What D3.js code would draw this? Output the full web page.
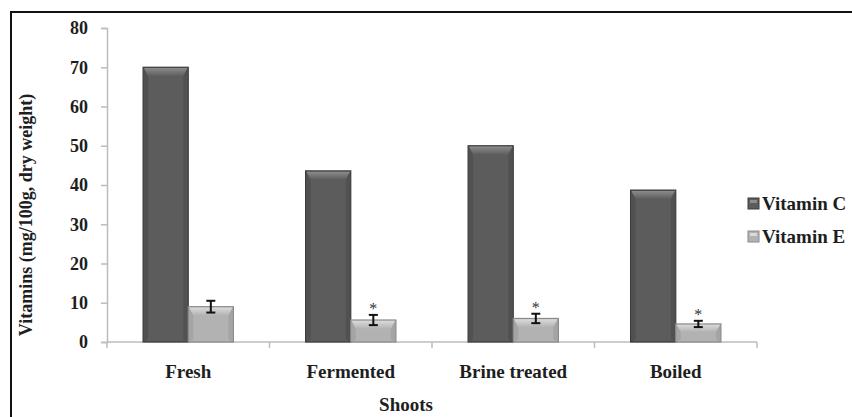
<!DOCTYPE html>
<html>
<head>
<meta charset="utf-8">
<script src="https://cdn.jsdelivr.net/npm/d3@7"></script>
<style>
  html, body { margin: 0; padding: 0; background: #fff; }
  svg { display: block; font-family: "Liberation Serif", "Times New Roman", serif; }
</style>
</head>
<body>
<svg id="chart" width="852" height="417"></svg>
<script>
// Vitamin content of shoots by processing method
const categories = ["Fresh", "Fermented", "Brine treated", "Boiled"];
const seriesNames = ["Vitamin C", "Vitamin E"];
const vitaminC = [70.0, 43.6, 50.0, 38.7];
const vitaminE = [9.0, 5.6, 6.0, 4.6];
const vitaminEErr = [1.5, 1.3, 1.2, 0.8];
const significant = [false, true, true, true];
const yTicks = [0, 10, 20, 30, 40, 50, 60, 70, 80];

const svg = d3.select("#chart");
const plotLeft = 107, plotRight = 757, plotTop = 28, plotBottom = 342;
const ink = "#1e1e1e";

// outer frame
svg.append("rect")
  .attr("x", 11).attr("y", 12).attr("width", 900).attr("height", 440)
  .attr("fill", "none").attr("stroke", "#111").attr("stroke-width", 2);

const x = d3.scaleBand().domain(categories).range([plotLeft, plotRight]).padding(0);
const xs = d3.scaleBand().domain(seriesNames).range([0, x.bandwidth()]).paddingInner(0).paddingOuter(0.8);
const y = d3.scaleLinear().domain([0, 80]).range([plotBottom, plotTop]);

const axisColor = "#bdbdbd";

// y axis
const yAxis = svg.append("g").attr("transform", `translate(${plotLeft},0)`)
  .call(d3.axisLeft(y).tickValues(yTicks).tickSize(6).tickPadding(13).tickFormat(d3.format("d")));
yAxis.select(".domain").attr("stroke", axisColor).attr("stroke-width", 1.5);
yAxis.selectAll(".tick line").attr("stroke", axisColor).attr("stroke-width", 1.5);
yAxis.selectAll(".tick text")
  .attr("font-family", "Liberation Serif").attr("font-weight", "bold")
  .attr("font-size", 18).attr("fill", ink);

// x axis: ticks at category boundaries
svg.append("line")
  .attr("x1", plotLeft).attr("x2", plotRight).attr("y1", plotBottom).attr("y2", plotBottom)
  .attr("stroke", axisColor).attr("stroke-width", 1.5);
const boundaries = categories.map(c => x(c) + x.bandwidth()).concat([plotLeft]);
svg.append("g").selectAll("line").data(boundaries).join("line")
  .attr("x1", d => d).attr("x2", d => d)
  .attr("y1", plotBottom).attr("y2", plotBottom + 6)
  .attr("stroke", axisColor).attr("stroke-width", 1.5);

svg.append("g").selectAll("text").data(categories).join("text")
  .attr("x", d => x(d) + x.bandwidth() / 2)
  .attr("y", 378)
  .attr("text-anchor", "middle")
  .attr("font-weight", "bold").attr("font-size", 19).attr("fill", ink)
  .text(d => d);

// axis titles
svg.append("text")
  .attr("x", 406).attr("y", 411)
  .attr("text-anchor", "middle")
  .attr("font-weight", "bold").attr("font-size", 19).attr("fill", ink)
  .text("Shoots");

svg.append("text")
  .attr("transform", "translate(32,215) rotate(-90)")
  .attr("text-anchor", "middle")
  .attr("font-weight", "bold").attr("font-size", 18).attr("fill", ink)
  .text("Vitamins (mg/100g, dry weight)");

// bevelled bar drawing
const styles = {
  "Vitamin C": { base: "#5c5c5c", edge: "#3c3c3c", light: "#8c8c8c" },
  "Vitamin E": { base: "#b2b2b2", edge: "#8a8a8a", light: "#dadada" }
};
const defs = svg.append("defs");
Object.entries(styles).forEach(([name, s], i) => {
  const g = defs.append("linearGradient").attr("id", "bev" + i)
    .attr("x1", 0).attr("x2", 0).attr("y1", 0).attr("y2", 1);
  g.append("stop").attr("offset", "0%").attr("stop-color", s.light);
  g.append("stop").attr("offset", "100%").attr("stop-color", s.base);
});

function drawBar(g, x0, w, v, name, idx) {
  const s = styles[name];
  const yt = y(v), h = y(0) - yt;
  const bev = Math.min(9, h * 0.45);
  g.append("rect").attr("x", x0).attr("y", yt).attr("width", w).attr("height", h)
    .attr("fill", s.base).attr("stroke", s.edge).attr("stroke-width", 1.2);
  g.append("path")
    .attr("d", `M${x0 + 0.8},${yt + 0.8} L${x0 + w - 0.8},${yt + 0.8} L${x0 + w - 5},${yt + bev} L${x0 + 5},${yt + bev} Z`)
    .attr("fill", `url(#bev${idx})`);
  // side shading
  g.append("path")
    .attr("d", `M${x0 + 0.8},${yt + 0.8} L${x0 + 5},${yt + bev} L${x0 + 5},${y(0) - 3} L${x0 + 0.8},${y(0)} Z`)
    .attr("fill", s.edge).attr("opacity", 0.35);
  g.append("path")
    .attr("d", `M${x0 + w - 0.8},${yt + 0.8} L${x0 + w - 5},${yt + bev} L${x0 + w - 5},${y(0) - 3} L${x0 + w - 0.8},${y(0)} Z`)
    .attr("fill", s.edge).attr("opacity", 0.35);
}

const bars = svg.append("g");
categories.forEach((c, i) => {
  drawBar(bars, x(c) + xs("Vitamin C"), xs.bandwidth(), vitaminC[i], "Vitamin C", 0);
  drawBar(bars, x(c) + xs("Vitamin E"), xs.bandwidth(), vitaminE[i], "Vitamin E", 1);
});

// error bars for Vitamin E
const err = svg.append("g").attr("stroke", "#111").attr("stroke-width", 2);
categories.forEach((c, i) => {
  const cx = x(c) + xs("Vitamin E") + xs.bandwidth() / 2;
  const hi = y(vitaminE[i] + vitaminEErr[i]), lo = y(vitaminE[i] - vitaminEErr[i]);
  err.append("line").attr("x1", cx).attr("x2", cx).attr("y1", hi).attr("y2", lo);
  err.append("line").attr("x1", cx - 4.5).attr("x2", cx + 4.5).attr("y1", hi).attr("y2", hi);
  err.append("line").attr("x1", cx - 4.5).attr("x2", cx + 4.5).attr("y1", lo).attr("y2", lo);
  if (significant[i]) {
    svg.append("text")
      .attr("x", cx).attr("y", hi - 1)
      .attr("text-anchor", "middle")
      .attr("font-size", 16).attr("fill", "#333")
      .text("*");
  }
});

// legend
const legend = svg.append("g").attr("transform", "translate(748,203)");
seriesNames.forEach((n, i) => {
  const g = legend.append("g").attr("transform", `translate(0,${i * 33})`);
  g.append("rect").attr("x", 0).attr("y", -5).attr("width", 11).attr("height", 11)
    .attr("fill", styles[n].base).attr("stroke", styles[n].edge).attr("stroke-width", 1);
  g.append("rect").attr("x", 2).attr("y", -3).attr("width", 7).attr("height", 3)
    .attr("fill", styles[n].light);
  g.append("text").attr("x", 14).attr("y", 6.5)
    .attr("font-weight", "bold").attr("font-size", 19).attr("fill", ink)
    .text(n);
});
</script>
</body>
</html>
